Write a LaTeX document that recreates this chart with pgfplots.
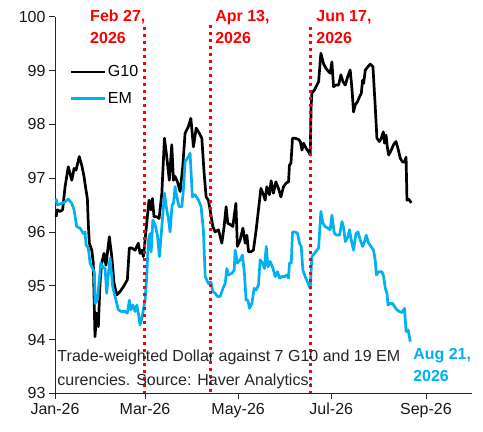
\documentclass[border=0pt]{standalone}
\usepackage{fontspec}
\setmainfont{Liberation Sans}
\usepackage{pgfplots}
\usepackage{pgfplotstable}
\pgfplotsset{compat=1.18}
\definecolor{emblue}{HTML}{00B0F0}

\pgfplotstableread{
d v
0.7 96.28
1.5 96.41
3.3 96.38
5.0 96.41
6.6 96.84
8.7 97.21
11.0 96.96
12.5 97.18
13.8 97.15
15.9 97.40
17.5 97.24
19.0 97.03
20.3 96.78
21.2 96.62
21.8 96.16
22.5 95.79
24.1 95.66
25.1 95.42
26.2 94.05
27.3 94.49
28.4 94.24
29.5 95.04
30.6 95.42
32.1 95.60
33.4 95.38
34.3 95.60
35.6 95.91
37.2 95.54
38.7 95.04
40.5 94.83
42.6 94.89
44.8 94.98
47.4 95.11
48.7 95.70
50.3 95.70
52.5 95.66
54.6 95.79
55.7 95.60
56.9 95.66
57.9 95.54
59.0 95.85
60.5 96.28
61.6 96.59
62.8 96.41
63.8 96.62
64.9 96.28
66.7 96.28
68.2 96.25
70.0 96.72
71.7 97.74
73.2 97.40
74.9 96.96
76.5 97.62
77.6 96.96
78.7 97.03
80.2 96.93
82.0 96.75
83.7 97.21
85.2 97.83
87.4 97.96
89.0 98.11
90.7 97.58
92.5 97.93
94.6 97.83
96.2 97.74
97.7 97.09
99.0 96.65
100.5 96.59
101.6 96.41
103.4 96.10
104.9 96.00
107.1 96.04
109.3 95.79
110.8 96.10
112.1 96.47
113.2 96.16
115.2 96.13
116.5 96.10
118.5 96.53
119.5 95.73
121.3 95.85
123.1 96.07
124.6 95.79
125.7 95.94
126.8 95.63
128.3 95.63
130.0 95.66
131.8 96.04
133.3 96.41
134.9 96.81
136.6 96.69
137.7 96.59
138.8 96.84
140.5 96.69
141.6 96.95
143.1 96.72
144.7 96.93
146.4 96.81
148.0 96.65
149.7 96.84
151.5 96.91
153.0 96.93
153.6 97.24
154.6 97.28
155.6 97.74
157.4 97.74
159.5 97.72
160.7 97.68
161.8 97.52
162.8 97.65
164.6 97.55
166.1 97.49
167.2 97.43
167.8 98.33
168.3 98.58
170.0 98.64
171.6 98.73
172.7 98.79
174.2 99.32
175.9 99.13
177.5 99.04
179.2 98.98
180.3 98.95
181.4 99.16
182.5 98.70
184.1 98.73
185.8 98.73
187.3 98.92
188.7 98.79
190.2 98.73
191.7 98.88
193.4 99.01
194.6 98.64
195.6 98.23
196.7 98.36
198.2 98.42
199.5 98.51
200.7 98.58
201.5 98.82
202.2 98.76
203.3 99.01
205.0 99.07
206.6 99.12
208.3 99.07
209.8 98.33
210.9 97.74
212.5 97.68
213.8 97.74
215.1 97.86
215.9 97.65
216.9 97.80
217.7 97.58
218.6 97.43
220.3 97.52
221.8 97.62
223.4 97.68
224.7 97.55
226.2 97.37
227.7 97.30
229.0 97.30
230.0 97.39
230.6 96.59
231.7 96.61
233.4 96.54
}\gten

\pgfplotstableread{
d v
0.7 96.62
1.5 96.50
4.4 96.53
6.6 96.56
8.7 96.61
11.0 96.53
12.5 96.41
14.2 96.10
16.4 96.07
18.6 95.97
19.7 96.00
20.3 95.76
21.8 95.70
23.0 95.42
24.7 95.32
25.8 95.26
26.2 94.67
27.7 94.73
29.0 95.11
30.0 95.42
31.3 95.35
32.8 95.32
33.9 94.86
35.0 95.23
36.1 95.51
37.8 94.98
39.3 94.80
40.5 94.67
41.5 94.55
43.7 94.52
45.9 94.52
47.4 94.49
48.7 94.73
49.6 94.55
51.0 94.64
52.5 94.52
53.6 94.64
54.6 94.49
55.7 94.27
56.9 94.39
57.9 94.55
59.0 94.73
60.1 95.17
61.2 95.85
62.3 95.97
63.0 95.63
64.1 96.22
65.6 96.13
67.1 95.94
68.4 95.54
70.0 96.10
71.7 96.72
73.2 96.41
74.3 96.25
75.4 96.00
76.7 96.50
77.6 96.53
78.7 96.84
79.8 96.65
81.3 96.47
83.1 96.47
84.1 96.78
85.2 97.30
86.8 97.37
88.5 97.46
90.0 96.65
91.8 96.69
94.0 96.59
95.7 96.47
97.2 96.04
98.4 95.17
100.5 95.04
102.1 95.07
103.4 94.89
104.9 94.86
106.4 94.80
108.2 94.80
110.0 94.95
111.5 95.04
112.6 95.32
113.6 95.20
115.9 95.23
117.4 95.29
118.0 95.66
119.5 95.42
121.3 95.48
122.8 95.57
124.1 95.23
125.2 94.73
126.4 94.73
127.4 94.58
129.0 94.67
130.5 94.95
131.8 94.92
133.3 95.01
134.4 95.48
135.9 95.42
137.2 95.32
138.4 95.73
139.5 95.35
141.0 95.45
142.8 95.32
144.3 95.17
145.8 95.26
147.1 95.14
148.7 95.17
150.4 95.17
151.9 95.20
153.0 95.14
153.6 95.42
154.8 95.42
155.6 96.00
157.4 96.00
158.9 95.97
160.2 95.79
161.3 95.73
162.4 95.29
163.9 95.17
165.4 95.07
167.2 94.95
168.3 95.54
170.0 95.60
171.6 95.66
172.7 95.70
174.2 96.38
175.5 96.16
177.0 96.10
178.8 96.07
180.3 96.04
181.4 96.31
183.0 95.97
184.7 95.94
186.4 95.94
188.0 96.19
189.1 96.07
190.2 95.82
191.9 95.91
193.0 96.04
194.1 95.85
195.6 95.66
197.2 95.97
198.5 96.00
200.0 95.85
201.5 95.73
202.8 95.82
203.9 95.94
205.4 95.79
207.0 95.73
208.7 95.66
209.8 95.48
210.5 95.20
212.0 95.26
214.2 95.26
215.3 95.17
216.4 94.95
217.5 94.86
218.2 94.64
219.7 94.67
221.2 94.67
222.5 94.61
224.1 94.55
225.6 94.52
227.3 94.50
229.0 94.58
230.0 94.15
231.3 94.18
232.8 93.96
}\emtab

\begin{document}
\begin{tikzpicture}
\useasboundingbox (-55pt,-38.7pt) rectangle (428pt,393.3pt);
\fill[white] (-55pt,-38.7pt) rectangle (428pt,393.3pt);
\begin{axis}[
  at={(0,0)}, anchor=south west,
  scale only axis, width=416.7pt, height=376.6pt,
  xmin=0, xmax=273, ymin=93, ymax=100,
  axis lines*=left,
  axis line style={line width=0.8pt, color=black!85},
  xtick={0,59,120,181,243},
  xticklabels={Jan-26,Mar-26,May-26,Jul-26,Sep-26},
  ytick={93,94,95,96,97,98,99,100},
  tick align=outside, major tick length=6pt,
  tick style={line width=0.8pt, color=black!85},
  ticklabel style={font=\fontsize{16}{19}\selectfont, text=black!90},
  /pgf/number format/assume math mode=true,
  clip=false,
  legend cell align=left,
  legend image code/.code={\draw[#1] (0pt,0pt) -- (34pt,0pt);},
  legend style={at={(axis cs:9.2,99.115)}, anchor=north west, draw=none, fill=none,
    inner sep=0pt, font=\fontsize{16}{19}\selectfont, row sep=12pt,
    nodes={inner xsep=2pt, inner ysep=1pt}},
]
\addplot[black, line width=2.7pt, line join=round] table[x=d, y=v] {\gten};
\addlegendentry{G10}
\addplot[emblue, line width=2.7pt, line join=round] table[x=d, y=v] {\emtab};
\addlegendentry{EM}
\addplot[red, line width=3pt, dash pattern=on 2.8pt off 4.2pt, forget plot] coordinates {(58.5,99.8) (58.5,93)};
\addplot[red, line width=3pt, dash pattern=on 2.8pt off 4.2pt, forget plot] coordinates {(101.6,99.85) (101.6,93)};
\addplot[red, line width=3pt, dash pattern=on 2.8pt off 4.2pt, forget plot] coordinates {(167.4,99.8) (167.4,93)};

\node[anchor=base west, inner sep=0pt, text=red, font=\bfseries\fontsize{16}{19}\selectfont] at (axis cs:22.95,99.907) {Feb 27,};
\node[anchor=base west, inner sep=0pt, text=red, font=\bfseries\fontsize{16}{19}\selectfont] at (axis cs:22.95,99.506) {2026};
\node[anchor=base west, inner sep=0pt, text=red, font=\bfseries\fontsize{16}{19}\selectfont] at (axis cs:104.9,99.907) {Apr 13,};
\node[anchor=base west, inner sep=0pt, text=red, font=\bfseries\fontsize{16}{19}\selectfont] at (axis cs:104.9,99.506) {2026};
\node[anchor=base west, inner sep=0pt, text=red, font=\bfseries\fontsize{16}{19}\selectfont] at (axis cs:171.1,99.907) {Jun 17,};
\node[anchor=base west, inner sep=0pt, text=red, font=\bfseries\fontsize{16}{19}\selectfont] at (axis cs:171.1,99.506) {2026};
\node[anchor=base west, inner sep=0pt, text=emblue, font=\bfseries\fontsize{16}{19}\selectfont] at (axis cs:234.6,93.62) {Aug 21,};
\node[anchor=base west, inner sep=0pt, text=emblue, font=\bfseries\fontsize{16}{19}\selectfont] at (axis cs:234.6,93.216) {2026};
\node[anchor=base west, inner sep=0pt, text=black!85, font=\fontsize{16}{19}\selectfont] at (axis cs:1.5,93.587) {Trade-weighted Dollar against 7 G10 and 19 EM};
\node[anchor=base west, inner sep=0pt, text=black!85, font=\fontsize{16}{19}\selectfont] at (axis cs:1.5,93.154) {curencies. Source: Haver Analytics.};
\end{axis}
\end{tikzpicture}
\end{document}
